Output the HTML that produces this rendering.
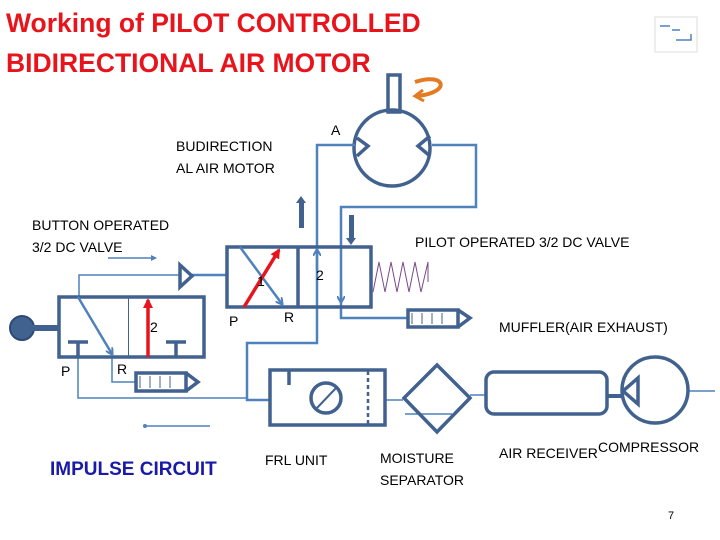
<!DOCTYPE html>
<html><head><meta charset="utf-8"><style>
html,body{margin:0;padding:0;background:#fff;width:720px;height:540px;overflow:hidden}
svg{display:block}
text{font-family:"Liberation Sans",sans-serif}
</style></head><body>
<svg width="720" height="540" viewBox="0 0 720 540" xmlns="http://www.w3.org/2000/svg">
<defs>
<marker id="ab" markerWidth="8" markerHeight="8" refX="6" refY="4" orient="auto" markerUnits="userSpaceOnUse"><path d="M0,0 L7,4 L0,8" fill="none" stroke="#4f81bd" stroke-width="2"/></marker>
<marker id="ar" markerWidth="10" markerHeight="10" refX="8" refY="5" orient="auto" markerUnits="userSpaceOnUse"><path d="M0,0 L10,5 L0,10 Z" fill="#e8141c"/></marker>
<marker id="at" markerWidth="6" markerHeight="6" refX="5" refY="3" orient="auto" markerUnits="userSpaceOnUse"><path d="M0,0 L6,3 L0,6 Z" fill="#4f81bd"/></marker>
</defs>
<text x="6" y="32" font-size="26.5" font-weight="bold" fill="#e8141c">Working of PILOT CONTROLLED</text>
<text x="6" y="72" font-size="26.5" font-weight="bold" fill="#e8141c">BIDIRECTIONAL AIR MOTOR</text>
<rect x="655" y="17" width="42" height="35" fill="#fff" stroke="#ddd" stroke-width="1"/>
<path d="M660,26 h10 M672,30 h8 M676,40 h15 v-6" stroke="#4f81bd" stroke-width="1.5" fill="none"/>
<g stroke="#41618f" fill="none" stroke-width="3.5">
<rect x="388" y="75" width="12" height="37"/>
<circle cx="392" cy="148" r="38"/>
<path d="M357,138 L368,146 L357,156"/><path d="M430,136 L418,146 L430,156"/>
</g>
<path d="M415,82 C445,72 452,92 418,96" stroke="#e37b22" stroke-width="4" fill="none"/>
<path d="M423,90 L415,96 L424,101" stroke="#e37b22" stroke-width="3" fill="none"/>
<g stroke="#4f81bd" stroke-width="2.5" fill="none">
<path d="M355,145 H317 V343 H247 V400 H270"/>
<path d="M432,145 H476 V207 H341 V318 H408"/>
<path d="M227,275 H192"/>
</g>
<g stroke="#4f81bd" stroke-width="1.5" fill="none">
<path d="M180,275 H79 V297"/>
<path d="M78,357 V398 H247"/>
<path d="M112,357 V382 H136"/>
<path d="M108,258 H156" marker-end="url(#at)"/>
<path d="M210,426 H145"/>
<path d="M470,395 H486"/><path d="M688,391 H715"/><path d="M385,400 H403"/>
<path d="M405,414 H452"/>
</g>
<circle cx="145" cy="426" r="2" fill="#4f81bd"/>
<g stroke="#41618f" stroke-width="3.5" fill="none">
<rect x="227" y="247" width="144" height="60"/>
<line x1="298" y1="247" x2="298" y2="307"/>
<path d="M180,265 L192,276 L180,287 Z"/>
<rect x="59" y="297" width="145" height="60"/>
<path d="M68,342 H88 M78,342 V357 M166,342 H186 M176,342 V357"/>
<rect x="408" y="310" width="50" height="17"/><path d="M458,310 L470,318 L458,327"/>
<rect x="136" y="373" width="50" height="18"/><path d="M186,373 L198,382 L186,391"/>
<rect x="270" y="370" width="115" height="55"/>
<path d="M289,370 V385"/>
<circle cx="326" cy="398" r="15"/>
<path d="M437,365 L470,398 L437,432 L404,398 Z"/>
<rect x="486" y="372" width="121" height="42" rx="8"/>
<path d="M607,396 H624" stroke-width="4"/>
<circle cx="655" cy="390" r="33"/>
<path d="M638,378 L623,391 L638,404 Z"/>
</g>
<path d="M368,371 V424" stroke="#41618f" stroke-width="2.5" stroke-dasharray="4,3"/>
<path d="M316,409 L336,388" stroke="#41618f" stroke-width="2"/>
<path d="M140,376 V388 M150,376 V388 M160,376 V388 M170,376 V388 M412,313 V324 M422,313 V324 M432,313 V324 M442,313 V324" stroke="#41618f" stroke-width="1"/>
<rect x="128" y="297" width="1" height="60" fill="#41618f"/>
<g stroke="#4f81bd" stroke-width="2.5" fill="none">
<path d="M78,297 L112,354" marker-end="url(#ab)"/>
<path d="M240,247 L282,304" marker-end="url(#ab)"/>
<path d="M317,270 V250" marker-end="url(#ab)"/>
<path d="M341,280 V302" marker-end="url(#ab)"/>
</g>
<path d="M148,357 V300" stroke="#e8141c" stroke-width="3.5" marker-end="url(#ar)"/>
<path d="M244,307 L279,250" stroke="#e8141c" stroke-width="3.5" marker-end="url(#ar)"/>
<circle cx="22" cy="328" r="12" fill="#41618f" stroke="#2d4a75" stroke-width="2"/>
<rect x="30" y="325" width="29" height="6" fill="#41618f"/>
<g fill="#41618f">
<rect x="299" y="202" width="5" height="26"/><path d="M296,203 L301,196 L306,203 Z"/>
<rect x="349" y="215" width="5" height="24"/><path d="M346,238 L351,245 L356,238 Z"/>
</g>
<path d="M373,292 L379,262 L385,292 L391,262 L397,292 L403,262 L409,292 L415,262 L421,292 L428,262 L428,282" stroke="#7a4a8c" stroke-width="1" fill="none"/>
<g font-size="14" fill="#000">
<text x="331" y="135">A</text>
<text x="176" y="151">BUDIRECTION</text>
<text x="176" y="173">AL AIR MOTOR</text>
<text x="32" y="230">BUTTON OPERATED</text>
<text x="32" y="252">3/2 DC VALVE</text>
<text x="415" y="247">PILOT OPERATED 3/2 DC VALVE</text>
<text x="257" y="286">1</text>
<text x="316" y="280">2</text>
<text x="150" y="332">2</text>
<text x="229" y="326">P</text>
<text x="284" y="322">R</text>
<text x="61" y="376">P</text>
<text x="117" y="374">R</text>
<text x="499" y="332">MUFFLER(AIR EXHAUST)</text>
<text x="265" y="465">FRL UNIT</text>
<text x="380" y="463">MOISTURE</text>
<text x="380" y="485">SEPARATOR</text>
<text x="499" y="458">AIR RECEIVER</text>
<text x="598" y="452">COMPRESSOR</text>
<text x="668" y="519" font-size="11">7</text>
</g>
<text x="50" y="475" font-size="19" font-weight="bold" fill="#1a1aa8">IMPULSE CIRCUIT</text>
</svg>
</body></html>
